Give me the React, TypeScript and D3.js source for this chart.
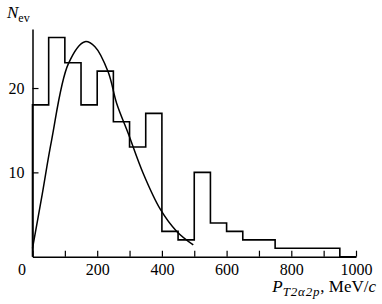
import { useEffect, useRef } from 'react'
import * as d3 from 'd3'

// histogram bins (left edges, MeV/c) and event counts
const binEdges = [0, 50, 100, 150, 200, 250, 300, 350, 400, 450, 500, 550, 600, 650, 700, 750, 800, 850, 900, 950, 1000]
const binCounts = [18, 26, 23, 18, 22, 16, 13, 17, 3, 2, 10, 4, 3, 2, 2, 1, 1, 1, 1, 0]

// fitted curve
const curveP = [0, 30, 59, 111, 162, 193, 234, 260, 296, 342, 394, 446, 497]
const curveN = [1.0, 7.4, 13.8, 22.9, 25.5, 24.9, 21.9, 18.2, 14.6, 9.9, 5.7, 3.0, 1.4]

const xTicks = [0, 100, 200, 300, 400, 500, 600, 700, 800, 900, 1000]
const xTickLabels = ['0', '', '200', '', '400', '', '600', '', '800', '', '1000']
const yTicks = [10, 20]

const W = 382
const H = 304
const FONT = '"Liberation Serif", "DejaVu Serif", serif'

export default function App() {
  const svgRef = useRef<SVGSVGElement>(null)

  useEffect(() => {
    if (!svgRef.current) return
    const svg = d3.select(svgRef.current)
    svg.selectAll('*').remove()

    const x = d3.scaleLinear().domain([0, 1000]).range([32.5, 356])
    const y = d3.scaleLinear().domain([0, 27]).range([256.7, 29])

    // x axis, ticks point inward
    const xAxis = svg
      .append('g')
      .attr('transform', `translate(0,${y(0)})`)
      .call(
        d3
          .axisBottom(x)
          .tickValues(xTicks)
          .tickSizeInner(-6)
          .tickSizeOuter(0)
          .tickPadding(7)
          .tickFormat((d, i) => xTickLabels[i])
      )
    xAxis.select('.domain').attr('stroke-width', 1.5)
    xAxis.selectAll('.tick line').attr('stroke-width', 1.2)
    xAxis
      .selectAll('.tick text')
      .attr('font-family', FONT)
      .attr('font-size', 16)
      .attr('fill', '#000')
    xAxis
      .selectAll<SVGTextElement, number>('.tick text')
      .filter((d) => d === 0)
      .attr('dx', -11)

    // y axis
    const yAxis = svg
      .append('g')
      .attr('transform', `translate(${x(0)},0)`)
      .call(
        d3.axisLeft(y).tickValues(yTicks).tickSizeInner(-6).tickSizeOuter(0).tickPadding(8)
      )
    yAxis.select('.domain').attr('stroke-width', 1.5)
    yAxis.selectAll('.tick line').attr('stroke-width', 1.2)
    yAxis
      .selectAll('.tick text')
      .attr('font-family', FONT)
      .attr('font-size', 16)
      .attr('fill', '#000')

    // histogram as a step line
    const stepData: [number, number][] = binEdges.map((e, i) => [
      e,
      i < binCounts.length ? binCounts[i] : binCounts[binCounts.length - 1],
    ])
    stepData.unshift([0, 0])
    const step = d3
      .line<[number, number]>()
      .x((d) => x(d[0]))
      .y((d) => y(d[1]))
      .curve(d3.curveStepAfter)
    svg
      .append('path')
      .datum(stepData)
      .attr('d', step)
      .attr('fill', 'none')
      .attr('stroke', '#000')
      .attr('stroke-width', 1.6)

    // fit curve
    const fit = d3
      .line<number>()
      .x((d) => x(d))
      .y((d, i) => y(curveN[i]))
      .curve(d3.curveCatmullRom.alpha(0.5))
    svg
      .append('path')
      .datum(curveP)
      .attr('d', fit)
      .attr('fill', 'none')
      .attr('stroke', '#000')
      .attr('stroke-width', 1.5)

    // y label N_ev
    const yl = svg.append('text').attr('x', 7).attr('y', 18).attr('font-family', FONT).attr('fill', '#000')
    yl.append('tspan').attr('font-size', 17).attr('font-style', 'italic').text('N')
    yl.append('tspan').attr('font-size', 12).attr('dy', 4).text('ev')

    // x label P_T2α2p, MeV/c (right aligned)
    const xl = svg
      .append('text')
      .attr('x', 376)
      .attr('y', 292)
      .attr('text-anchor', 'end')
      .attr('font-family', FONT)
      .attr('fill', '#000')
    xl.append('tspan').attr('font-size', 17).attr('font-style', 'italic').text('P')
    xl.append('tspan')
      .attr('font-size', 13)
      .attr('font-style', 'italic')
      .attr('letter-spacing', 0.8)
      .attr('dy', 4)
      .text('T2α2p')
    xl.append('tspan').attr('font-size', 17).attr('dy', -4).text(', MeV/')
    xl.append('tspan').attr('font-size', 17).attr('font-style', 'italic').text('c')
  }, [])

  return (
    <svg
      ref={svgRef}
      width={W}
      height={H}
      style={{ position: 'absolute', left: 0, top: 0, background: '#fff' }}
    />
  )
}
